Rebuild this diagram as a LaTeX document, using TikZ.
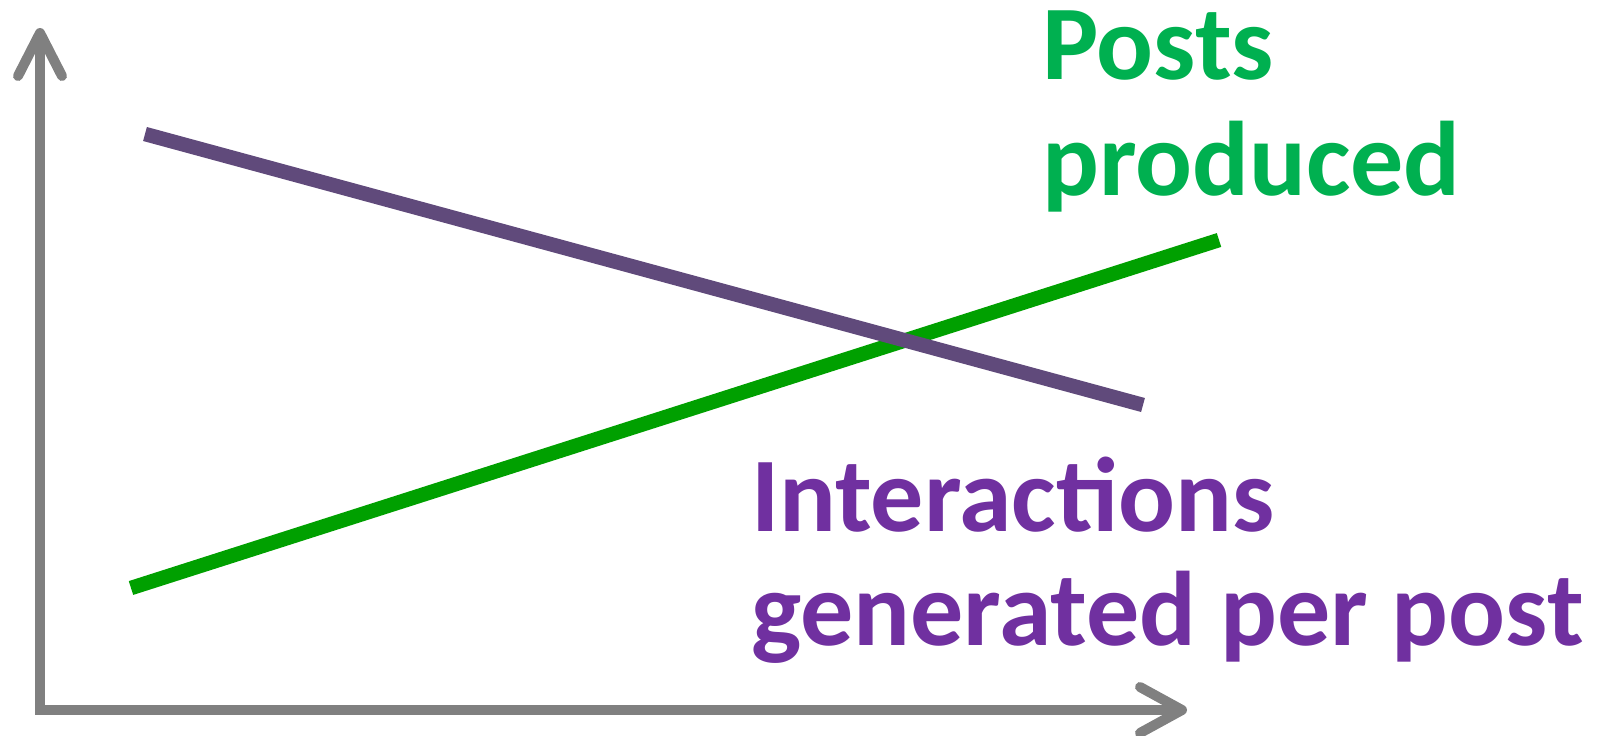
\documentclass[tikz,border=0pt]{standalone}
\usepackage{fontspec}
\setmainfont{Carlito}
\definecolor{axisgray}{HTML}{808080}
\definecolor{postgreen}{HTML}{00B050}
\definecolor{linegreen}{HTML}{00A000}
\definecolor{linepurple}{HTML}{604A7B}
\definecolor{textpurple}{HTML}{7030A0}
\begin{document}
\begin{tikzpicture}[x=1pt,y=-1pt,
  axisline/.style={draw=axisgray,line width=10pt,line join=miter},
  axishead/.style={draw=axisgray,line width=10pt,line cap=round,line join=round},
  trend/.style={line width=14.5pt},
  lbl/.style={anchor=base west,inner sep=0pt,font=\fontsize{106}{115}\selectfont\bfseries}]
\useasboundingbox (0,0) rectangle (1604,736);
% axes
\coordinate (ytip) at (40,33);
\coordinate (origin) at (40,710);
\coordinate (xtip) at (1182,710);
\draw[axisline] (ytip) -- (origin) -- (xtip);
\draw[axishead] (18,76) -- (ytip) -- (62,76);
\draw[axishead] (1140,687) -- (xtip) -- (1140,733);
% trend lines
\coordinate (pA) at (145,134);
\coordinate (pB) at (1143,405);
\coordinate (gA) at (131,588);
\coordinate (gB) at (1219,240);
\draw[trend,draw=linegreen] (gA) -- (gB);
\draw[trend,draw=linepurple] (pA) -- (pB);
% labels
\node[lbl,text=postgreen] (posts1) at (1042,79) {Posts};
\node[lbl,text=postgreen] (posts2) at (1042,195) {produced};
\node[lbl,text=textpurple] (int1) at (751,531) {Interactions};
\node[lbl,text=textpurple] (int2) at (751,645) {generated per post};
\end{tikzpicture}
\end{document}
